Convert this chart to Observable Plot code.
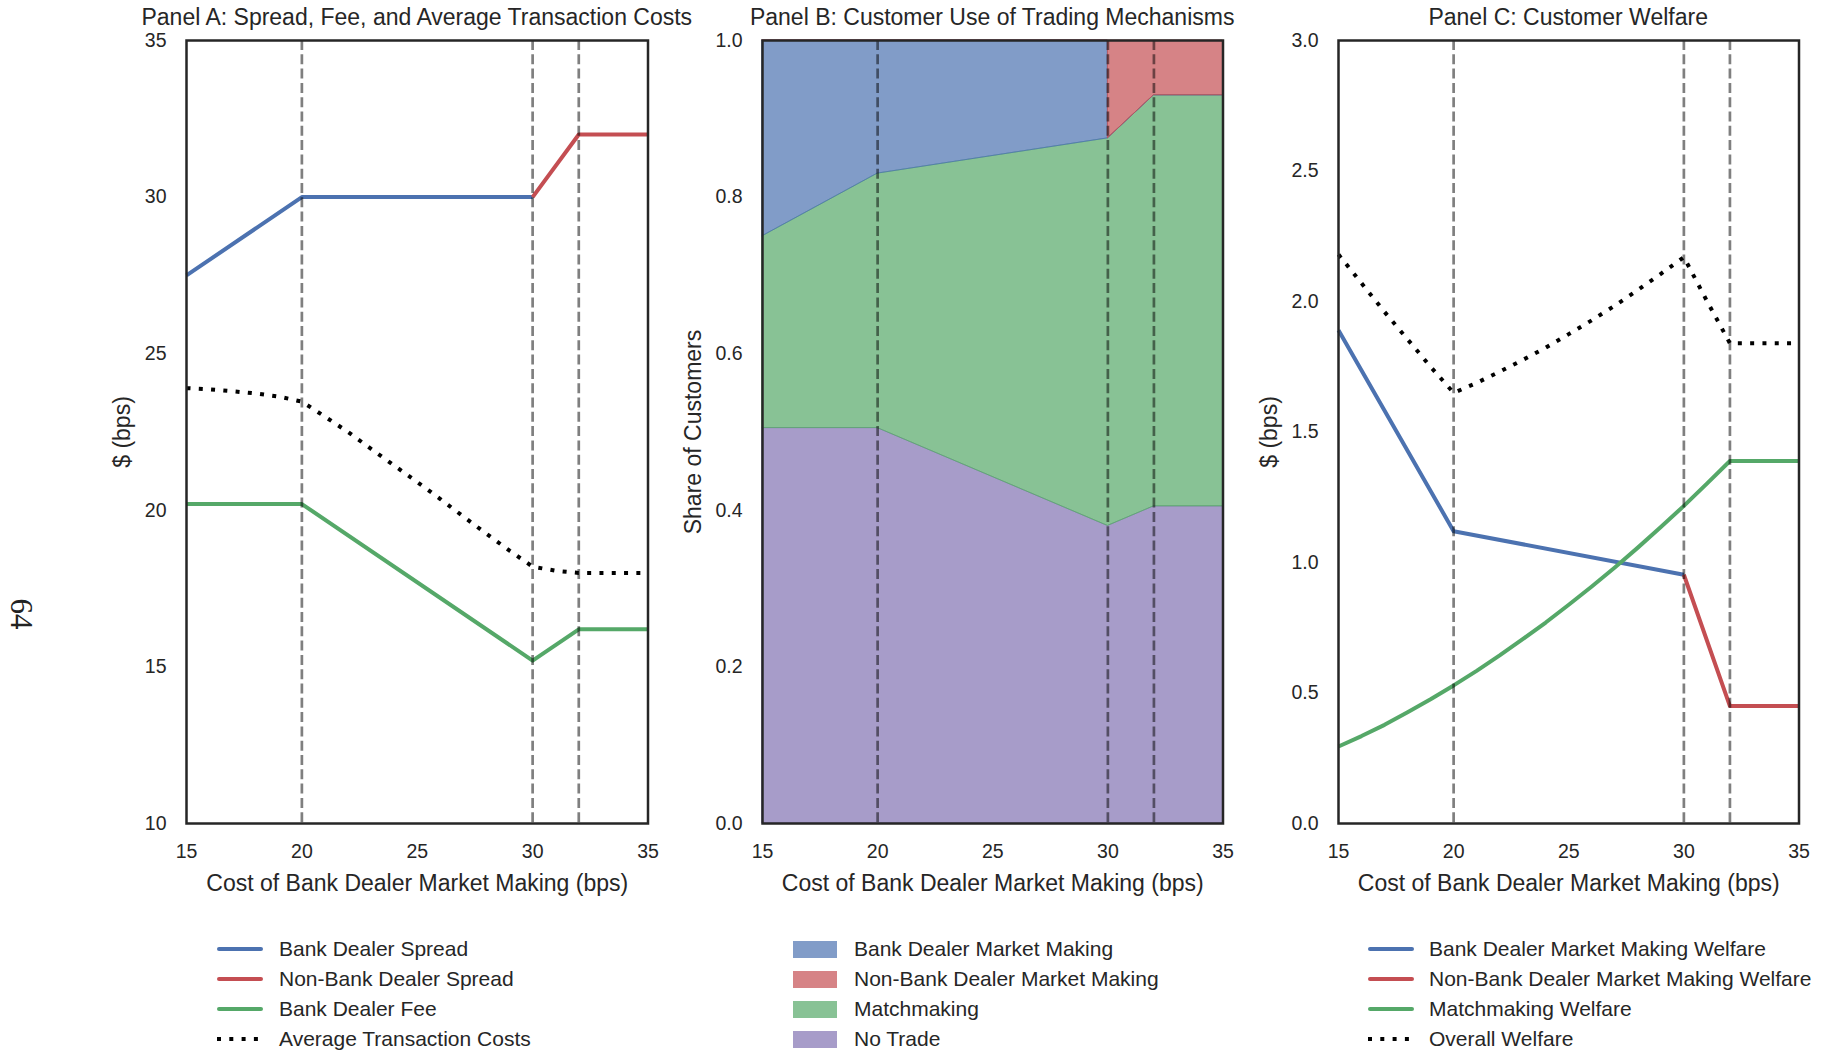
<!DOCTYPE html>
<html>
<head>
<meta charset="utf-8">
<script src="https://cdn.jsdelivr.net/npm/d3@7"></script>
<script src="https://cdn.jsdelivr.net/npm/@observablehq/plot@0.6"></script>
<style>
  body { margin: 0; background: #fff; }
  #fig { position: relative; width: 1836px; height: 1053px; overflow: hidden;
         font-family: "Liberation Sans", Arial, sans-serif; color: #262626; background: #fff; }
  .panel { position: absolute; top: 0; }
  .title { position: absolute; top: 6px; font-size: 23px; line-height: 23px; white-space: nowrap; transform: translateX(-50%); }
  .legend { position: absolute; top: 934px; font-size: 21px; }
  .legend .row { height: 30px; display: flex; align-items: center; white-space: nowrap; }
  .pageno { position: absolute; left: 21px; top: 614px; font-family: "Liberation Serif", "DejaVu Serif", serif;
            font-size: 31px; transform: translate(-50%, -50%) rotate(90deg); color: #222; }
</style>
</head>
<body>
<div id="fig"></div>
<script>
// ---------------- data ----------------
const xTicks = [15, 20, 25, 30, 35];
const regimeBreaks = [20, 30, 32];

// Panel A: spreads, fee, average transaction costs ($ bps)
const bankSpreadX = [15, 20, 30];
const bankSpreadY = [27.5, 30, 30];
const nonBankSpreadX = [30, 32, 35];
const nonBankSpreadY = [30, 32, 32];
const bankFeeX = [15, 20, 30, 32, 35];
const bankFeeY = [20.2, 20.2, 15.2, 16.2, 16.2];
const avgCostX = [15, 16, 17, 18, 19, 20, 21, 22, 23, 24, 25, 26, 27, 28, 29, 30, 31, 32, 33, 34, 35];
const avgCostY = [23.9, 23.86, 23.8, 23.73, 23.63, 23.47, 22.99, 22.5, 21.96, 21.43, 20.9, 20.36, 19.8, 19.25, 18.71, 18.2, 18.07, 18.0, 18.0, 18.0, 18.0];
const panelAYTicks = [10, 15, 20, 25, 30, 35];

// Panel B: share of customers by trading mechanism (stacked)
const mechX = [15, 20, 30, 30, 32, 35];
const shareNoTrade = [0.505, 0.505, 0.38, 0.38, 0.405, 0.405];
const shareMatch = [0.245, 0.325, 0.495, 0.495, 0.525, 0.525];
const shareBank = [0.25, 0.17, 0.125, 0, 0, 0];
const shareNonBank = [0, 0, 0, 0.125, 0.07, 0.07];
const panelBYTicks = [0, 0.2, 0.4, 0.6, 0.8, 1.0];

// Panel C: customer welfare ($ bps)
const bankWelfareX = [15, 20, 30];
const bankWelfareY = [1.89, 1.12, 0.953];
const nonBankWelfareX = [30, 32, 35];
const nonBankWelfareY = [0.953, 0.45, 0.45];
const matchWelfareX = [15, 16, 17, 18, 19, 20, 21, 22, 23, 24, 25, 26, 27, 28, 29, 30, 31, 32, 33, 34, 35];
const matchWelfareY = [0.295, 0.335, 0.378, 0.426, 0.476, 0.529, 0.585, 0.644, 0.706, 0.770, 0.838, 0.908, 0.981, 1.057, 1.136, 1.217, 1.302, 1.389, 1.389, 1.389, 1.389];
const overallWelfareX = [15, 16, 17, 18, 19, 20, 21, 22, 23, 24, 25, 26, 27, 28, 29, 30, 31, 32, 33, 34, 35];
const overallWelfareY = [2.18, 2.07, 1.96, 1.855, 1.75, 1.65, 1.688, 1.731, 1.776, 1.823, 1.875, 1.928, 1.984, 2.044, 2.106, 2.17, 2.002, 1.84, 1.84, 1.84, 1.84];
const panelCYTicks = [0, 0.5, 1.0, 1.5, 2.0, 2.5, 3.0];

const titles = ["Panel A: Spread, Fee, and Average Transaction Costs",
                "Panel B: Customer Use of Trading Mechanisms",
                "Panel C: Customer Welfare"];
const xLabel = "Cost of Bank Dealer Market Making (bps)";
const legendA = ["Bank Dealer Spread", "Non-Bank Dealer Spread", "Bank Dealer Fee", "Average Transaction Costs"];
const legendB = ["Bank Dealer Market Making", "Non-Bank Dealer Market Making", "Matchmaking", "No Trade"];
const legendC = ["Bank Dealer Market Making Welfare", "Non-Bank Dealer Market Making Welfare", "Matchmaking Welfare", "Overall Welfare"];

// ---------------- styling ----------------
const BLUE = "#4C72B0", RED = "#C44E52", GREEN = "#55A868", PURPLE = "#8172B2", INK = "#262626";
const H = 910, MT = 40, MB = 87;
const LW = 4;
const zip = (xs, ys) => xs.map((x, i) => ({x, y: ys[i]}));
const solid = (data, color) => Plot.line(data, {x: "x", y: "y", stroke: color, strokeWidth: LW, strokeLinejoin: "round", strokeLinecap: "butt"});
const dotted = (data) => Plot.line(data, {x: "x", y: "y", stroke: "#000", strokeWidth: LW, strokeDasharray: "4,8.3", strokeLinecap: "butt"});
const rules = () => Plot.ruleX(regimeBreaks, {stroke: "#000", strokeOpacity: 0.5, strokeWidth: 2.7, strokeDasharray: "10,4.3"});

function makePanel({left, width, ml, mr, yDomain, yTicks, yFmt, yLabel, yLabelDx, marks}) {
  const svg = Plot.plot({
    width, height: H, marginLeft: ml, marginRight: mr, marginTop: MT, marginBottom: MB,
    style: {fontFamily: '"Liberation Sans", Arial, sans-serif', fontSize: "19.5px", color: INK, background: "transparent", overflow: "visible"},
    x: {domain: [15, 35]},
    y: {domain: yDomain},
    marks: [
      ...marks,
      rules(),
      Plot.axisX({ticks: xTicks, tickSize: 0, tickPadding: 21, fontSize: 19.5, label: null}),
      Plot.axisY({ticks: yTicks, tickSize: 0, tickPadding: 20, fontSize: 19.5, label: null, tickFormat: yFmt}),
      Plot.text([xLabel], {text: d => d, frameAnchor: "bottom", textAnchor: "middle", dy: 67, fontSize: 23, fill: INK}),
      Plot.text([yLabel], {text: d => d, frameAnchor: "left", textAnchor: "middle", dx: yLabelDx, rotate: -90, fontSize: 23, fill: INK}),
      Plot.frame({stroke: INK, strokeWidth: 2.5})
    ]
  });
  const div = document.createElement("div");
  div.className = "panel";
  div.style.left = left + "px";
  div.appendChild(svg);
  document.getElementById("fig").appendChild(div);
}

// Panel A
makePanel({
  left: 0, width: 680, ml: 186, mr: 32.5,
  yDomain: [10, 35], yTicks: panelAYTicks, yFmt: d3.format("d"), yLabel: "$ (bps)", yLabelDx: -64,
  marks: [
    solid(zip(bankSpreadX, bankSpreadY), BLUE),
    solid(zip(nonBankSpreadX, nonBankSpreadY), RED),
    solid(zip(bankFeeX, bankFeeY), GREEN),
    dotted(zip(avgCostX, avgCostY))
  ]
});

// Panel B (stacked shares)
const bMarks = [];
let cum = mechX.map(() => 0);
[[shareNoTrade, PURPLE], [shareMatch, GREEN], [shareBank, BLUE], [shareNonBank, RED]].forEach(([vals, color]) => {
  const data = mechX.map((x, i) => ({x, y1: cum[i], y2: cum[i] + vals[i]}));
  cum = cum.map((c, i) => c + vals[i]);
  bMarks.push(Plot.areaY(data, {x: "x", y1: "y1", y2: "y2", fill: color, fillOpacity: 0.7, stroke: color, strokeOpacity: 0.7, strokeWidth: 1}));
});
makePanel({
  left: 660, width: 600, ml: 102, mr: 37.5,
  yDomain: [0, 1], yTicks: panelBYTicks, yFmt: d3.format(".1f"), yLabel: "Share of Customers", yLabelDx: -69,
  marks: bMarks
});

// Panel C
makePanel({
  left: 1236, width: 600, ml: 102, mr: 37.5,
  yDomain: [0, 3], yTicks: panelCYTicks, yFmt: d3.format(".1f"), yLabel: "$ (bps)", yLabelDx: -69,
  marks: [
    solid(zip(bankWelfareX, bankWelfareY), BLUE),
    solid(zip(nonBankWelfareX, nonBankWelfareY), RED),
    solid(zip(matchWelfareX, matchWelfareY), GREEN),
    dotted(zip(overallWelfareX, overallWelfareY))
  ]
});

// ---------------- titles, legends, page number ----------------
const fig = document.getElementById("fig");
[[titles[0], 416.8], [titles[1], 992.2], [titles[2], 1568.2]].forEach(([t, cx]) => {
  const d = document.createElement("div");
  d.className = "title"; d.style.left = cx + "px"; d.textContent = t; fig.appendChild(d);
});

function lineSwatch(color, dotted) {
  const ns = "http://www.w3.org/2000/svg";
  const s = document.createElementNS(ns, "svg");
  s.setAttribute("width", 46); s.setAttribute("height", 10);
  const l = document.createElementNS(ns, "line");
  l.setAttribute("x1", dotted ? 0 : 2); l.setAttribute("x2", dotted ? 46 : 44);
  l.setAttribute("y1", 5); l.setAttribute("y2", 5);
  l.setAttribute("stroke", color); l.setAttribute("stroke-width", LW);
  if (dotted) { l.setAttribute("stroke-dasharray", "4,8.3"); l.setAttribute("stroke-linecap", "butt"); }
  else l.setAttribute("stroke-linecap", "round");
  s.appendChild(l);
  return s;
}
function rectSwatch(color) {
  const ns = "http://www.w3.org/2000/svg";
  const s = document.createElementNS(ns, "svg");
  s.setAttribute("width", 44); s.setAttribute("height", 17);
  const r = document.createElementNS(ns, "rect");
  r.setAttribute("width", 44); r.setAttribute("height", 17);
  r.setAttribute("fill", color); r.setAttribute("fill-opacity", 0.7);
  s.appendChild(r);
  return s;
}
function legend(left, labels, swatches, gap) {
  const d = document.createElement("div");
  d.className = "legend"; d.style.left = left + "px";
  labels.forEach((lab, i) => {
    const row = document.createElement("div"); row.className = "row";
    const sw = swatches[i]; sw.style.marginRight = gap + "px";
    row.appendChild(sw);
    const sp = document.createElement("span"); sp.textContent = lab; row.appendChild(sp);
    d.appendChild(row);
  });
  fig.appendChild(d);
}
legend(217, legendA, [lineSwatch(BLUE), lineSwatch(RED), lineSwatch(GREEN), lineSwatch("#000", true)], 16);
legend(793, legendB, [rectSwatch(BLUE), rectSwatch(RED), rectSwatch(GREEN), rectSwatch(PURPLE)], 17);
legend(1368, legendC, [lineSwatch(BLUE), lineSwatch(RED), lineSwatch(GREEN), lineSwatch("#000", true)], 15);

const pg = document.createElement("div");
pg.className = "pageno"; pg.textContent = "64"; fig.appendChild(pg);
</script>
</body>
</html>
